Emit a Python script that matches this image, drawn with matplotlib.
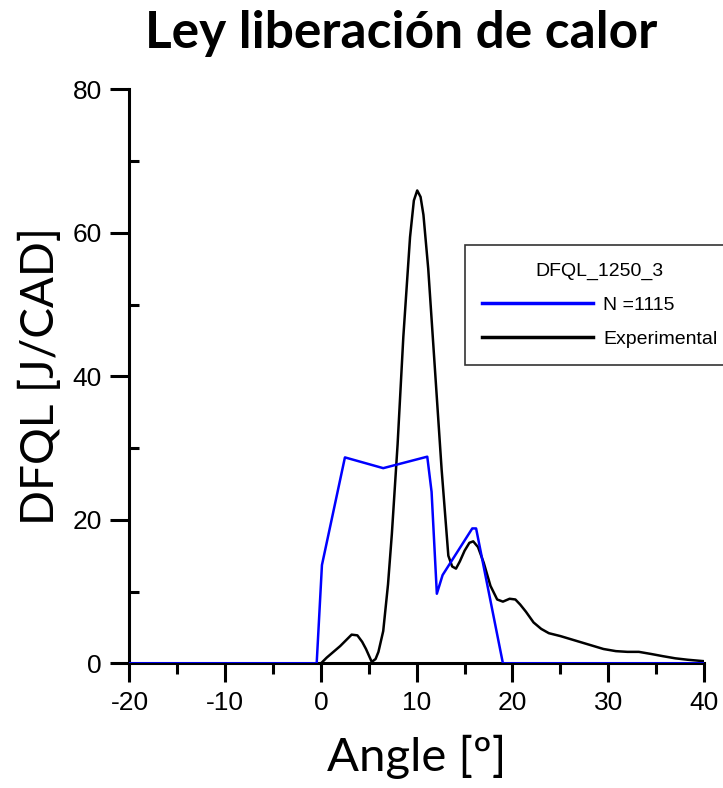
import matplotlib
matplotlib.use("Agg")
import matplotlib.pyplot as plt
from matplotlib.ticker import MultipleLocator

plt.rcParams["axes.unicode_minus"] = False

# Simulated curve (N = 1115)
sim_angle = [-20, -0.45, 0.1, 2.5, 6.5, 11.1, 11.55, 12.1, 12.7, 15.8, 16.2, 19.0, 40]
sim_dfql = [0, 0, 13.7, 28.7, 27.2, 28.8, 23.9, 9.7, 12.3, 18.8, 18.8, 0, 0]

# Experimental curve
exp_angle = [0, 0.6, 1.3, 2.0, 2.6, 3.2, 3.8, 4.3, 4.7, 5.3, 5.7, 6.0, 6.5, 7.0, 7.4,
             8.0, 8.6, 9.3, 9.7, 10.05, 10.4, 10.7, 11.2, 11.9, 12.6, 13.3, 13.7, 14.1,
             14.5, 15.0, 15.5, 15.9, 16.4, 17.0, 17.7, 18.4, 19.0, 19.7, 20.3, 20.8,
             21.4, 22.2, 23.0, 23.8, 25.0, 26.5, 28.0, 29.5, 30.8, 32.0, 33.2, 34.5,
             35.7, 37.0, 38.3, 40]
exp_dfql = [0, 0.8, 1.6, 2.4, 3.2, 4.0, 3.9, 3.0, 2.0, 0.2, 0.6, 1.6, 4.5, 11.0, 18.0,
            30.5, 45.5, 59.4, 64.5, 65.9, 65.0, 62.5, 55.0, 41.0, 27.0, 15.0, 13.5, 13.2,
            14.2, 15.7, 16.8, 17.0, 16.2, 14.0, 10.8, 8.9, 8.6, 9.0, 8.9, 8.2, 7.2,
            5.7, 4.8, 4.2, 3.8, 3.2, 2.6, 2.0, 1.7, 1.6, 1.6, 1.3, 1.0, 0.7, 0.5, 0.3]

x_ticks = [-20, -10, 0, 10, 20, 30, 40]
y_ticks = [0, 20, 40, 60, 80]

fig = plt.figure(figsize=(7.23, 7.88), dpi=100)
ax = fig.add_axes([0.1791, 0.1582, 0.7946, 0.7285])

ax.plot(exp_angle, exp_dfql, color="black", lw=1.8, label="Experimental", zorder=3)
ax.plot(sim_angle, sim_dfql, color="#0000ff", lw=1.8, label="N =1115", zorder=4)

ax.set_xlim(-20, 40)
ax.set_ylim(0, 80)
ax.set_xticks(x_ticks)
ax.set_yticks(y_ticks)
ax.xaxis.set_minor_locator(MultipleLocator(5))
ax.yaxis.set_minor_locator(MultipleLocator(10))

for s in ["top", "right"]:
    ax.spines[s].set_visible(False)
for s in ["left", "bottom"]:
    ax.spines[s].set_linewidth(2.2)

ax.tick_params(axis="both", which="major", direction="out", length=14, width=2.2,
               labelsize=19, pad=6)
ax.tick_params(axis="x", which="minor", direction="out", length=8, width=2.2)
ax.tick_params(axis="y", which="minor", direction="in", length=7.5, width=2.2)
for lab in ax.get_xticklabels() + ax.get_yticklabels():
    lab.set_family(["Liberation Sans", "DejaVu Sans"])

ax.set_xlabel("Angle [º]", family="Lato", fontsize=34)
ax.xaxis.set_label_coords(0.5, -0.125)
ax.set_ylabel("DFQL [J/CAD]", family="Lato", fontsize=33)
ax.yaxis.set_label_coords(-0.118, 0.5)

fig.text(0.555, 0.957, "Ley liberación de calor", family="Lato", fontweight="bold",
         fontsize=37, ha="center", va="center")

# legend: blue first, then black
handles, labels = ax.get_legend_handles_labels()
leg_font = {"family": ["Liberation Sans", "DejaVu Sans"], "size": 14}
leg = ax.legend(handles[::-1], labels[::-1], title="DFQL_1250_3",
                loc="upper left", bbox_to_anchor=(0.584, 0.729), borderaxespad=0,
                frameon=True, fancybox=False, edgecolor="black",
                handlelength=5.7, handletextpad=0.5, borderpad=0.9,
                labelspacing=0.85, prop=leg_font, title_fontproperties=leg_font)
leg.get_frame().set_linewidth(1.2)
for line in leg.get_lines():
    line.set_linewidth(2.5)
leg.set_zorder(5)

fig.savefig("out.png", dpi=100)
